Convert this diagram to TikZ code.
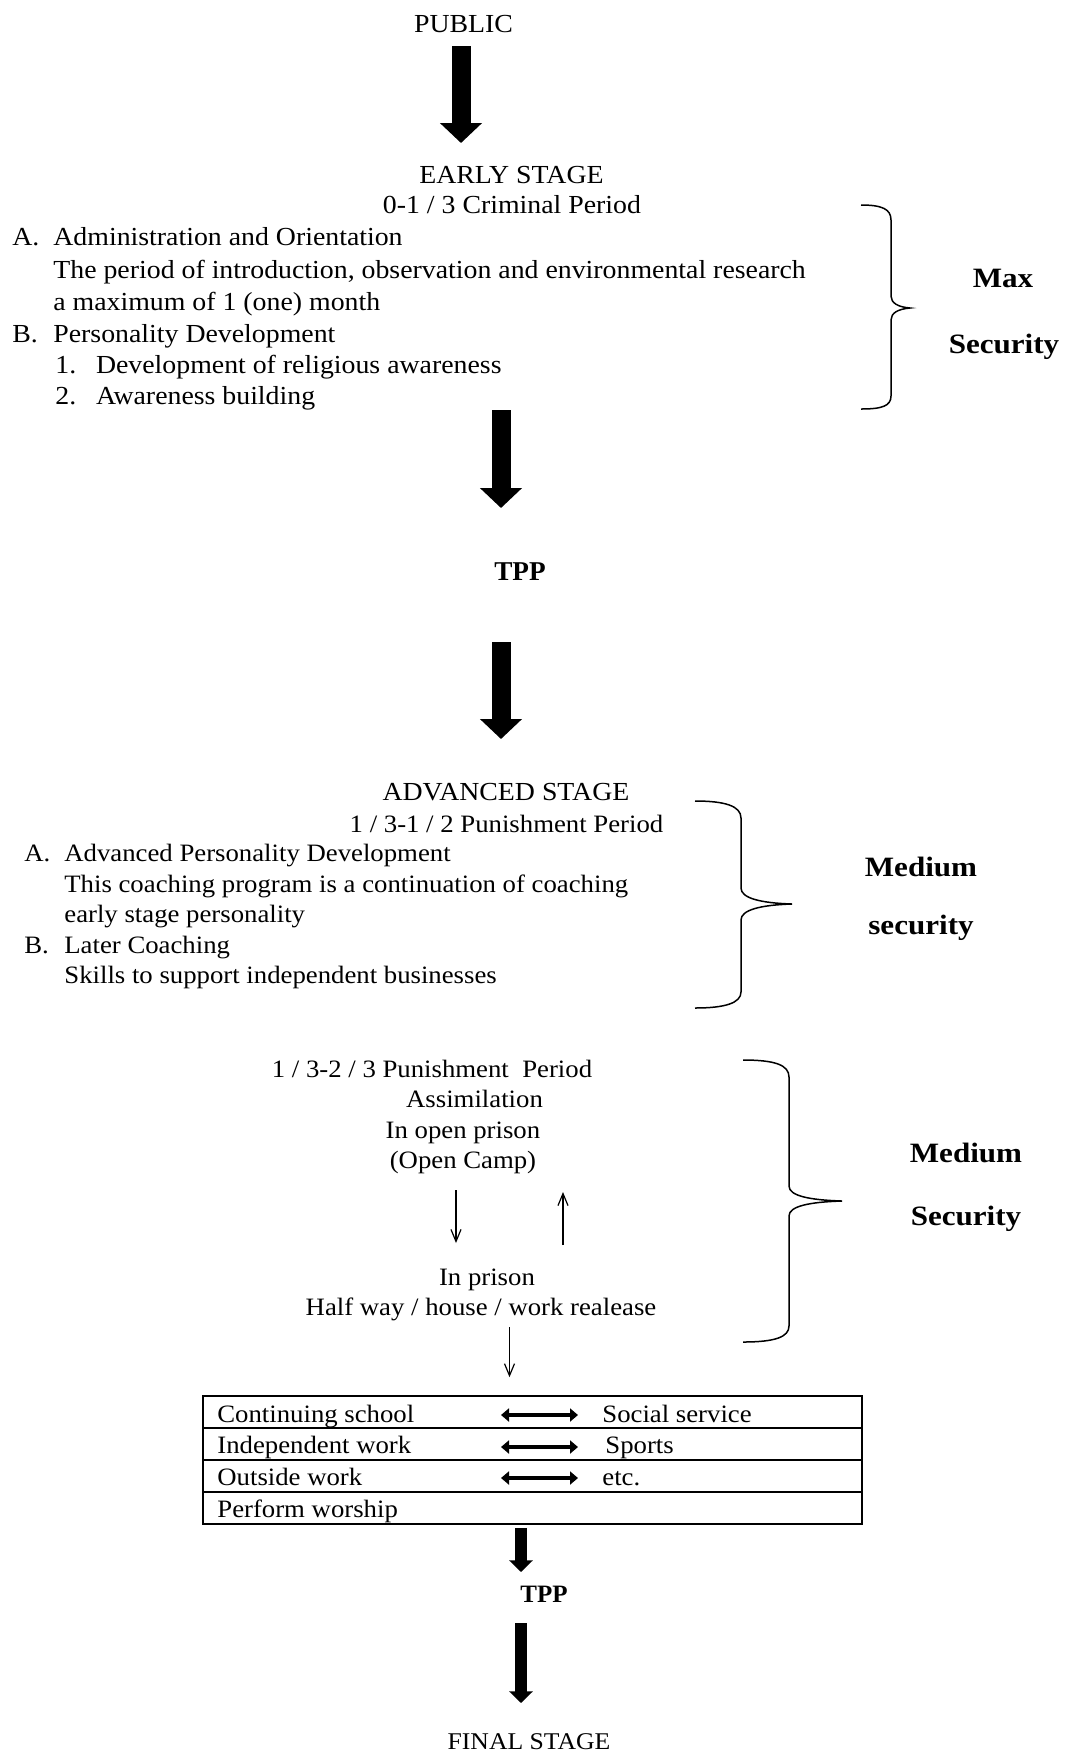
\documentclass[tikz,border=0pt]{standalone}
\usepackage{fontspec}
\setmainfont{Liberation Serif}[FakeStretch=1.07]
\newfontfamily\widebold{Liberation Serif}[FakeStretch=1.11]
\newfontfamily\plainserif{Liberation Serif}
\usetikzlibrary{arrows.meta,calc}
\begin{document}
\begin{tikzpicture}[x=0.5pt,y=-0.5pt,
 txt/.style={inner sep=0pt,anchor=base,font=\fontsize{13}{15}\selectfont},
 txtl/.style={txt,anchor=base west},
 sm/.style={inner sep=0pt,anchor=base,font=\fontsize{12.5}{15}\selectfont},
 sml/.style={sm,anchor=base west},
 bold/.style={inner sep=0pt,anchor=base,font=\widebold\fontsize{14}{16}\selectfont\bfseries},
 tppstyle/.style={inner sep=0pt,anchor=base,font=\plainserif\fontsize{13.6}{16}\selectfont\bfseries},
 big/.style={line width=9.5pt,-{Triangle[length=10pt,width=20.5pt]}},
 midarrow/.style={line width=5.8pt,-{Triangle[length=5.8pt,width=11.5pt]}},
 thinarrow/.style={line width=0.6pt,-{Straight Barb[length=6pt,width=5pt]}},
 dbl/.style={line width=1.75pt,{Triangle[length=4pt,width=6.5pt]}-{Triangle[length=4pt,width=6.5pt]}},
 bracestyle/.style={line width=0.75pt},
 rowbox/.style={draw,line width=0.8pt,minimum width=329.5pt,minimum height=16pt,inner sep=0pt}
]
\useasboundingbox (0,0) rectangle (1067,1753);

% ---------- Early stage ----------
\node[txt] (public) at (463.5,32) {PUBLIC};
\node[txt] (early) at (511.5,183) {EARLY STAGE};
\node[txt] (crim) at (512,213) {0-1 / 3 Criminal Period};
\node[txtl] (la) at (12,245) {A.};
\node[txtl] (adm) at (53,245) {Administration and Orientation};
\node[txtl] (per) at (53,278) {The period of introduction, observation and environmental research};
\node[txtl] (mon) at (53,310) {a maximum of 1 (one) month};
\node[txtl] (lb) at (12,342) {B.};
\node[txtl] (pd) at (53,342) {Personality Development};
\node[txtl] (n1) at (55,373) {1.};
\node[txtl] (drel) at (95.6,373) {Development of religious awareness};
\node[txtl] (n2) at (55,404) {2.};
\node[txtl] (aw) at (95.6,404) {Awareness building};

\draw[bracestyle] (861,205) .. controls (882,205) and (891,209) .. (891,220) -- (891,296)
  .. controls (891,303) and (898,307) .. (910,308) .. controls (898,309) and (891,313) .. (891,320)
  -- (891,396) .. controls (891,406) and (882,409) .. (861,409);
\node[bold] (max) at (1003,287) {Max};
\node[bold] (sec1) at (1004,353) {Security};

\draw[big] ($(public.base)+(-2.5,14)$) -- ($(early.base)+(-50.5,-40)$);

% ---------- TPP ----------
\node[tppstyle] (tpp1) at (520,580) {TPP};
\draw[big] ($(aw.base west)+(405.4,6)$) -- ($(tpp1.base)+(-19,-72)$);

% ---------- Advanced stage ----------
\node[txt] (adv) at (506,800) {ADVANCED STAGE};
\node[sm] (pun) at (506.5,832) {1 / 3-1 / 2 Punishment Period};
\node[sml] (la2) at (24,861) {A.};
\node[sml] (apd) at (64,861) {Advanced Personality Development};
\node[sml] (coach) at (64,892) {This coaching program is a continuation of coaching};
\node[sml] (esp) at (64,922) {early stage personality};
\node[sml] (lb2) at (24,953) {B.};
\node[sml] (lc) at (64,953) {Later Coaching};
\node[sml] (skills) at (64,983) {Skills to support independent businesses};

\draw[big] ($(tpp1.base)+(-19,62)$) -- ($(adv.base)+(-5,-61)$);

\draw[bracestyle] (695,801) .. controls (725,801) and (741,806) .. (741,818) -- (741,888)
  .. controls (741,898) and (760,903) .. (792,904) .. controls (760,905) and (741,910) .. (741,920)
  -- (741,992) .. controls (741,1003) and (725,1008) .. (695,1008);
\node[bold] (med2) at (921,876) {Medium};
\node[bold] (sec2) at (921,934) {security};

% ---------- Assimilation ----------
\node[sm] (p3) at (432,1077) {1 / 3-2 / 3 Punishment~~Period};
\node[sm] (asm) at (474.5,1107) {Assimilation};
\node[sm] (op) at (463,1138) {In open prison};
\node[sm] (oc) at (463,1168) {(Open Camp)};
\node[sm] (inp) at (487,1285) {In prison};
\node[sm] (hw) at (481,1315) {Half way / house / work realease};

\draw[thinarrow] ($(oc.base)+(-7,22)$) -- ($(inp.base)+(-31,-42)$);
\draw[thinarrow] ($(inp.base)+(76,-40)$) -- ($(oc.base)+(100,24)$);

\draw[bracestyle] (743,1060) .. controls (775,1060) and (789,1065) .. (789,1077) -- (789,1186)
  .. controls (789,1196) and (810,1200) .. (842,1201) .. controls (810,1202) and (789,1206) .. (789,1216)
  -- (789,1326) .. controls (789,1337) and (775,1342) .. (743,1342);
\node[bold] (med3) at (966,1162) {Medium};
\node[bold] (sec3) at (966,1225) {Security};

% ---------- Table ----------
\node[rowbox] (r1) at (532.5,1412) {};
\node[rowbox] (r2) at (532.5,1444) {};
\node[rowbox] (r3) at (532.5,1476) {};
\node[rowbox] (r4) at (532.5,1508) {};

\draw[thinarrow] ($(hw.base)+(28.5,12)$) -- ($(r1.north)+(-23,-18)$);

\node[sml] (cs) at (217,1422) {Continuing school};
\node[sml] (iw) at (217,1453) {Independent work};
\node[sml] (ow) at (217,1485) {Outside work};
\node[sml] (pw) at (217,1517) {Perform worship};
\node[sml] (ss) at (602,1422) {Social service};
\node[sml] (sp) at (605,1453) {Sports};
\node[sml] (etc) at (602,1485) {etc.};

\draw[dbl] ($(cs.base west)+(284,-7)$) -- ($(ss.base west)+(-24,-7)$);
\draw[dbl] ($(iw.base west)+(284,-6)$) -- ($(sp.base west)+(-27,-6)$);
\draw[dbl] ($(ow.base west)+(284,-7)$) -- ($(etc.base west)+(-24,-7)$);

% ---------- Final ----------
\node[tppstyle,font=\plainserif\fontsize{12.5}{15}\selectfont\bfseries] (tpp2) at (544,1602) {TPP};
\node[txt,font=\fontsize{12}{14}\selectfont] (final) at (529,1749) {FINAL STAGE};
\draw[midarrow] ($(r4.south)+(-11.5,3)$) -- ($(tpp2.base)+(-23,-30)$);
\draw[midarrow] ($(tpp2.base)+(-23,21)$) -- ($(final.base)+(-8,-46)$);
\end{tikzpicture}
\end{document}
